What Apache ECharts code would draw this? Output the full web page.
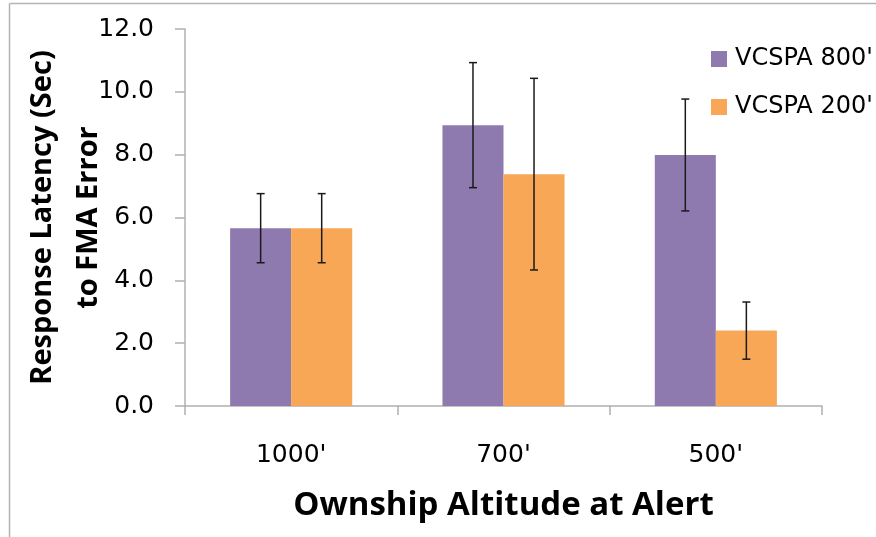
<!DOCTYPE html>
<html>
<head>
<meta charset="utf-8">
<script src="https://cdn.jsdelivr.net/npm/echarts@6/dist/echarts.min.js"></script>
<style>html,body{margin:0;padding:0;background:#fff}#c{width:876px;height:537px}</style>
</head>
<body>
<div id="c"></div>
<script>
var categories = ["1000'", "700'", "500'"];
var seriesNames = ["VCSPA 800'", "VCSPA 200'"];
var values800 = [5.66, 8.94, 7.99];
var values200 = [5.66, 7.38, 2.40];
var err800 = [1.10, 1.99, 1.78];
var err200 = [1.10, 3.05, 0.91];
var yTicks = [0, 2, 4, 6, 8, 10, 12];

var colors = ['#8F7AB0', '#F7A756'];
var catGap = 0.425;

function errorSeries(vals, errs, idx) {
  return {
    type: 'custom',
    silent: true,
    z: 10,
    data: vals.map(function (v, i) { return [i, v - errs[i], v + errs[i]]; }),
    renderItem: function (params, api) {
      var band = api.size([1, 0])[0];
      var bw = band * (1 - catGap) / 2;
      var off = (idx === 0 ? -bw / 2 : bw / 2);
      var lo = api.coord([api.value(0), api.value(1)]);
      var hi = api.coord([api.value(0), api.value(2)]);
      var x = lo[0] + off;
      var cap = 4;
      var st = { stroke: '#1a1a1a', lineWidth: 1.5 };
      return {
        type: 'group',
        children: [
          { type: 'line', shape: { x1: x, y1: lo[1], x2: x, y2: hi[1] }, style: st },
          { type: 'line', shape: { x1: x - cap, y1: lo[1], x2: x + cap, y2: lo[1] }, style: st },
          { type: 'line', shape: { x1: x - cap, y1: hi[1], x2: x + cap, y2: hi[1] }, style: st }
        ]
      };
    }
  };
}

var chart = echarts.init(document.getElementById('c'), null, { renderer: 'canvas' });
chart.setOption({
  animation: false,
  backgroundColor: '#fff',
  textStyle: { fontFamily: 'DejaVu Sans' },
  graphic: [
    { type: 'line', shape: { x1: 9.5, y1: 3.5, x2: 876, y2: 3.5 }, style: { stroke: '#b4b4b4', lineWidth: 1.5 } },
    { type: 'line', shape: { x1: 9.5, y1: 3.5, x2: 9.5, y2: 537 }, style: { stroke: '#b4b4b4', lineWidth: 1.5 } }
  ],
  legend: {
    orient: 'vertical',
    left: 711,
    top: 47,
    padding: 0,
    itemWidth: 16,
    itemHeight: 16,
    itemGap: 24,
    icon: 'rect',
    data: seriesNames,
    textStyle: { fontFamily: 'DejaVu Sans', fontSize: 24, color: '#000', padding: [0, 0, 0, 3] }
  },
  grid: { left: 185, right: 54, top: 29, bottom: 131, containLabel: false, outerBoundsMode: 'none' },
  xAxis: {
    type: 'category',
    data: categories,
    axisLine: { lineStyle: { color: '#b0b0b0', width: 1.5 } },
    axisTick: { show: true, length: 9, lineStyle: { color: '#b0b0b0', width: 1.5 } },
    axisLabel: { margin: 37, fontFamily: 'DejaVu Sans', fontSize: 25, color: '#000' },
    name: 'Ownship Altitude at Alert',
    nameLocation: 'middle',
    nameGap: 83,
    nameMoveOverlap: false,
    nameTextStyle: { fontFamily: 'Open Sans', fontWeight: 'bold', fontSize: 33, color: '#000' }
  },
  yAxis: {
    type: 'value',
    min: yTicks[0],
    max: yTicks[yTicks.length - 1],
    interval: 2,
    splitLine: { show: false },
    axisLine: { show: true, lineStyle: { color: '#b0b0b0', width: 1.5 } },
    axisTick: { show: true, length: 10, lineStyle: { color: '#b0b0b0', width: 1.5 } },
    axisLabel: { margin: 31, fontFamily: 'DejaVu Sans', fontSize: 25, color: '#000', formatter: function (v) { return v.toFixed(1); } },
    name: 'Response Latency (Sec)\nto FMA Error',
    nameLocation: 'middle',
    nameRotate: 90,
    nameGap: 73,
    nameMoveOverlap: false,
    nameTextStyle: { fontFamily: 'Open Sans', fontWeight: 'bold', fontSize: 29, lineHeight: 46, color: '#000', align: 'center' }
  },
  series: [
    { name: seriesNames[0], type: 'bar', data: values800, barGap: '0%', barCategoryGap: (catGap * 100) + '%', itemStyle: { color: colors[0] } },
    { name: seriesNames[1], type: 'bar', data: values200, barGap: '0%', barCategoryGap: (catGap * 100) + '%', itemStyle: { color: colors[1] } },
    errorSeries(values800, err800, 0),
    errorSeries(values200, err200, 1)
  ]
});
</script>
</body>
</html>
